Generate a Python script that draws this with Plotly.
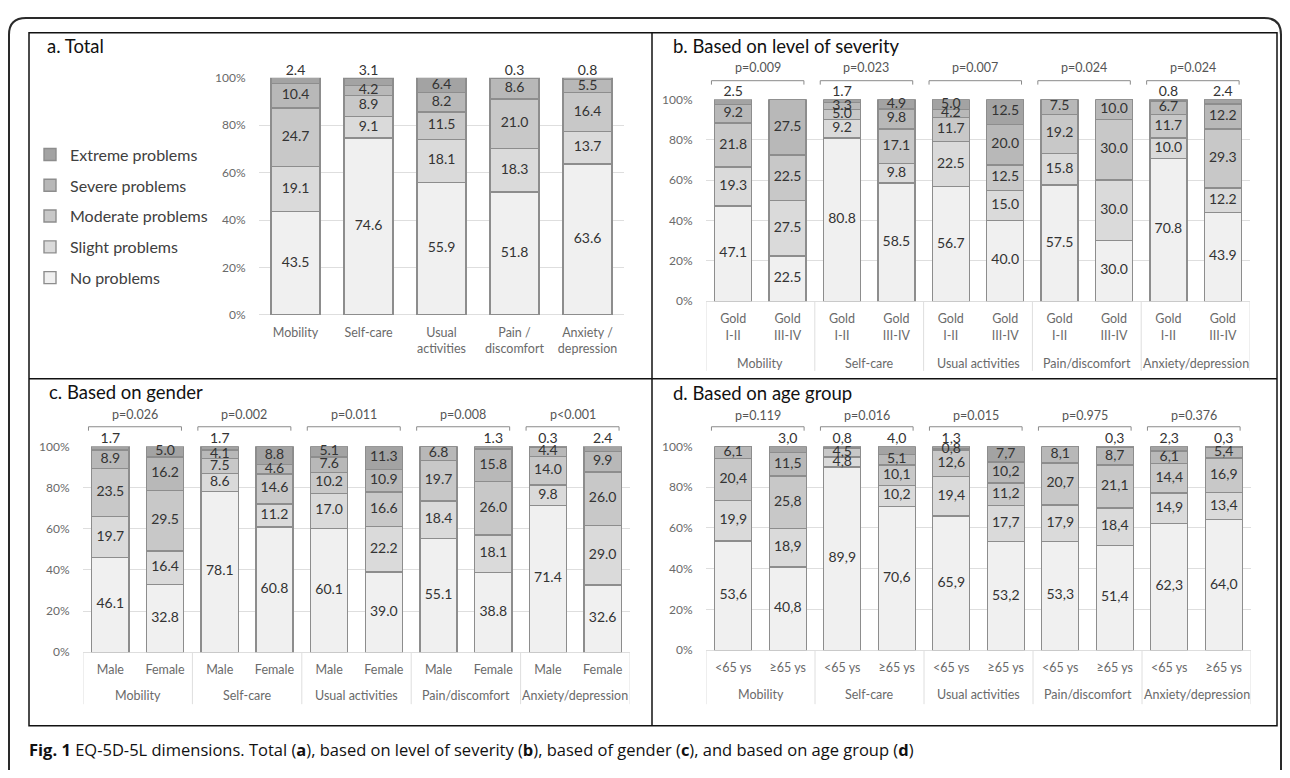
import plotly.graph_objects as go

# page body keeps an 8px margin; figure sized so that it fits the 1290x778 window
OX, OY = 8, 8
W, H = 1290 - 2 * OX, 778 - 2 * OY

# ---------------- data ----------------
levels = ["No problems", "Slight problems", "Moderate problems", "Severe problems", "Extreme problems"]
level_colors = ["#f0f0f0", "#dadada", "#c8c8c8", "#b8b8b8", "#a3a3a3"]

total_dims = ["Mobility", "Self-care", "Usual<br>activities", "Pain /<br>discomfort", "Anxiety /<br>depression"]
total_no = [43.5, 74.6, 55.9, 51.8, 63.6]
total_slight = [19.1, 9.1, 18.1, 18.3, 13.7]
total_moderate = [24.7, 8.9, 11.5, 21.0, 16.4]
total_severe = [10.4, 4.2, 8.2, 8.6, 5.5]
total_extreme = [2.4, 3.1, 6.4, 0.3, 0.8]

groups = ["Mobility", "Self-care", "Usual activities", "Pain/discomfort", "Anxiety/depression"]

sev_sub = ["Gold<br>I-II", "Gold<br>III-IV"]
sev_no = [47.1, 22.5, 80.8, 58.5, 56.7, 40.0, 57.5, 30.0, 70.8, 43.9]
sev_slight = [19.3, 27.5, 9.2, 9.8, 22.5, 15.0, 15.8, 30.0, 10.0, 12.2]
sev_moderate = [21.8, 22.5, 5.0, 17.1, 11.7, 12.5, 19.2, 30.0, 11.7, 29.3]
sev_severe = [9.2, 27.5, 3.3, 9.8, 4.2, 20.0, 7.5, 10.0, 6.7, 12.2]
sev_extreme = [2.5, 0.0, 1.7, 4.9, 5.0, 12.5, 0.0, 0.0, 0.8, 2.4]
sev_p = ["p=0.009", "p=0.023", "p=0.007", "p=0.024", "p=0.024"]

gen_sub = ["Male", "Female"]
gen_no = [46.1, 32.8, 78.1, 60.8, 60.1, 39.0, 55.1, 38.8, 71.4, 32.6]
gen_slight = [19.7, 16.4, 8.6, 11.2, 17.0, 22.2, 18.4, 18.1, 9.8, 29.0]
gen_moderate = [23.5, 29.5, 7.5, 14.6, 10.2, 16.6, 19.7, 26.0, 14.0, 26.0]
gen_severe = [8.9, 16.2, 4.1, 4.6, 7.6, 10.9, 6.8, 15.8, 4.4, 9.9]
gen_extreme = [1.7, 5.0, 1.7, 8.8, 5.1, 11.3, 0.0, 1.3, 0.3, 2.4]
gen_p = ["p=0.026", "p=0.002", "p=0.011", "p=0.008", "p<0.001"]

age_sub = ["<65 ys", "≥65 ys"]
age_no = [53.6, 40.8, 89.9, 70.6, 65.9, 53.2, 53.3, 51.4, 62.3, 64.0]
age_slight = [19.9, 18.9, 4.8, 10.2, 19.4, 17.7, 17.9, 18.4, 14.9, 13.4]
age_moderate = [20.4, 25.8, 4.5, 10.1, 12.6, 11.2, 20.7, 21.1, 14.4, 16.9]
age_severe = [6.1, 11.5, 0.0, 5.1, 0.8, 10.2, 8.1, 8.7, 6.1, 5.4]
age_extreme = [0.0, 3.0, 0.8, 4.0, 1.3, 7.7, 0.0, 0.3, 2.3, 0.3]
age_p = ["p=0.119", "p=0.016", "p=0.015", "p=0.975", "p=0.376"]

y_ticks = [0, 20, 40, 60, 80, 100]

# ---------------- helpers ----------------
FONT = "Lato, 'Open Sans', sans-serif"
CAP_FONT = "'Open Sans', Lato, sans-serif"
VAL_COLOR = "#333333"
AX_COLOR = "#6a6a6a"
GRID = "#dedede"


def pxx(x):
    """window pixel x -> paper coordinate"""
    return (x - OX) / W


def pyy(y):
    """window pixel y (from top) -> paper coordinate"""
    return 1 - (y - OY) / H


def fmt(v, comma):
    if v <= 0:
        return ""
    s = f"{v:.1f}"
    return s.replace(".", ",") if comma else s


fig = go.Figure()


def add_panel(ax, series, comma, showlegend, bargap):
    xa = "x" + ax
    ya = "y" + ax
    n = len(series[0])
    pos = list(range(n))
    for k, vals in enumerate(series):
        fig.add_trace(go.Bar(
            x=pos, y=vals, xaxis=xa, yaxis=ya, name=levels[k],
            legendgroup=levels[k], legendrank=(5 - k) * 10, showlegend=showlegend,
            marker=dict(color=level_colors[k], line=dict(color="#8d8d8d", width=1.4)),
            hoverinfo="skip", width=1 - bargap,
        ))
    # value labels at the middle of every segment
    lx, ly, lt = [], [], []
    ox, oy, ot = [], [], []
    for i in pos:
        base = 0.0
        for k, vals in enumerate(series):
            v = vals[i]
            if v > 0:
                if k == 4 and v <= 4.5:
                    # small extreme values sit above the bar (rounded totals can exceed 100)
                    ox.append(i)
                    oy.append(min(base + v, 99.9))
                    ot.append(fmt(v, comma))
                else:
                    lx.append(i)
                    ly.append(min(base + v / 2, 99.9))
                    lt.append(fmt(v, comma))
            base += v
    fig.add_trace(go.Scatter(
        x=lx, y=ly, xaxis=xa, yaxis=ya, mode="text", text=lt,
        textposition="middle center", cliponaxis=False, showlegend=False,
        textfont=dict(family=FONT, size=14, color=VAL_COLOR), hoverinfo="skip",
    ))
    fig.add_trace(go.Scatter(
        x=ox, y=oy, xaxis=xa, yaxis=ya, mode="text", text=ot,
        textposition="top center", cliponaxis=False, showlegend=False,
        textfont=dict(family=FONT, size=14, color=VAL_COLOR), hoverinfo="skip",
    ))


def axis_cfg(xd, yd, n, ticktext, tickfs):
    xaxis = dict(domain=[pxx(xd[0]), pxx(xd[1])], range=[-0.5, n - 0.5],
                 tickvals=list(range(n)), ticktext=ticktext, showgrid=False,
                 zeroline=False, showline=False, ticks="outside", ticklen=6,
                 tickcolor="rgba(0,0,0,0)", tickfont=dict(family=FONT, size=tickfs, color=AX_COLOR),
                 fixedrange=True)
    yaxis = dict(domain=[pyy(yd[1]), pyy(yd[0])], range=[0, 100], tickmode="array",
                 tickvals=y_ticks, ticktext=[f"{t}%" for t in y_ticks],
                 showgrid=True, gridcolor=GRID, gridwidth=1, zeroline=True,
                 zerolinecolor=GRID, zerolinewidth=1, ticks="outside", ticklen=10,
                 tickcolor="rgba(0,0,0,0)", tickfont=dict(family=FONT, size=12, color=AX_COLOR),
                 showline=False, fixedrange=True)
    return xaxis, yaxis


# panel geometry (window pixels)
A_X, A_Y = (259, 624), (71, 313)
B_X, B_Y = (706, 1250), (93, 299)
C_X, C_Y = (83, 630), (447, 657)
D_X, D_Y = (706, 1251), (447, 655)

add_panel("", [total_no, total_slight, total_moderate, total_severe, total_extreme], False, True, 0.33)
add_panel("2", [sev_no, sev_slight, sev_moderate, sev_severe, sev_extreme], False, False, 0.32)
add_panel("3", [gen_no, gen_slight, gen_moderate, gen_severe, gen_extreme], False, False, 0.32)
add_panel("4", [age_no, age_slight, age_moderate, age_severe, age_extreme], True, False, 0.32)

xa, ya = axis_cfg(A_X, A_Y, 5, total_dims, 12.5)
xb, yb = axis_cfg(B_X, B_Y, 10, sev_sub * 5, 12.5)
xc, yc = axis_cfg(C_X, C_Y, 10, gen_sub * 5, 12.5)
xd, yd = axis_cfg(D_X, D_Y, 10, age_sub * 5, 12.5)

annotations = []
shapes = []

# group labels, dividers, brackets, p-values
for ax, (PX, PY), pvals, glab_y, div_bot, br_y, p_y in [
    ("2", (B_X, B_Y), sev_p, 362, 370, 74, 61),
    ("3", (C_X, C_Y), gen_p, 701, 710, 427, 415),
    ("4", (D_X, D_Y), age_p, 700, 710, 427, 416),
]:
    xr = "x" + ax
    for g in range(len(groups) + 1):
        shapes.append(dict(type="line", xref=xr, yref="paper", x0=2 * g - 0.5, x1=2 * g - 0.5,
                           y0=pyy(PY[1]), y1=pyy(div_bot), line=dict(color=GRID, width=1)))
    for g, name in enumerate(groups):
        annotations.append(dict(xref=xr, yref="paper", x=2 * g + 0.5, y=pyy(glab_y), text=name,
                                showarrow=False, xanchor="center", yanchor="middle",
                                font=dict(family=FONT, size=12.5, color=AX_COLOR)))
        l, r = 2 * g - 0.4, 2 * g + 1.3
        yt, ybm = pyy(br_y), pyy(br_y + 4)
        shapes.append(dict(type="path", xref=xr, yref="paper",
                           path=f"M {l},{ybm} L {l},{yt} L {r},{yt} L {r},{ybm}",
                           line=dict(color="#8a8a8a", width=1)))
        annotations.append(dict(xref=xr, yref="paper", x=2 * g + 0.45, y=pyy(p_y), text=pvals[g],
                                showarrow=False, xanchor="center", yanchor="middle",
                                font=dict(family=FONT, size=12.5, color="#555555")))

# panel titles
for txt, x, y in [("a. Total", 45, 39), ("b. Based on level of severity", 671, 39),
                  ("c. Based on gender", 47, 392), ("d. Based on age group", 671, 393)]:
    annotations.append(dict(xref="paper", yref="paper", x=pxx(x), y=pyy(y), text=txt,
                            showarrow=False, xanchor="left", yanchor="middle",
                            font=dict(family=FONT, size=18.5, color="#111111")))

# caption
annotations.append(dict(xref="paper", yref="paper", x=pxx(27), y=pyy(756),
                        text="<b>Fig. 1</b> EQ-5D-5L dimensions. Total (<b>a</b>), based on level of severity (<b>b</b>), "
                             "based of gender (<b>c</b>), and based on age group (<b>d</b>)",
                        showarrow=False, xanchor="left", yanchor="middle",
                        font=dict(family=CAP_FONT, size=16.5, color="#111111")))

# panel frame and dividers
shapes.append(dict(type="rect", xref="paper", yref="paper", x0=pxx(29), x1=pxx(1277),
                   y0=pyy(732), y1=pyy(25), line=dict(color="#111111", width=1.5)))
shapes.append(dict(type="line", xref="paper", yref="paper", x0=pxx(652), x1=pxx(652),
                   y0=pyy(732), y1=pyy(25), line=dict(color="#111111", width=1.5)))
shapes.append(dict(type="line", xref="paper", yref="paper", x0=pxx(29), x1=pxx(1277),
                   y0=pyy(378), y1=pyy(378), line=dict(color="#111111", width=1.5)))

# outer rounded frame (clipped by the page edges like the reference)
r = 17
fx0, fy0, fx1 = 9, 10, 1281
path = (f"M {pxx(fx0)},{pyy(800)} L {pxx(fx0)},{pyy(fy0 + r)} Q {pxx(fx0)},{pyy(fy0)} {pxx(fx0 + r)},{pyy(fy0)} "
        f"L {pxx(fx1 - r)},{pyy(fy0)} Q {pxx(fx1)},{pyy(fy0)} {pxx(fx1)},{pyy(fy0 + r)} L {pxx(fx1)},{pyy(800)}")
shapes.append(dict(type="path", xref="paper", yref="paper", path=path,
                   line=dict(color="#2a2a2a", width=2)))

fig.update_layout(
    width=W, height=H, margin=dict(l=0, r=0, t=0, b=0),
    paper_bgcolor="white", plot_bgcolor="white",
    barmode="stack",
    font=dict(family=FONT, color="#333333"),
    xaxis=xa, yaxis=ya,
    xaxis2=dict(xb, anchor="y2"), yaxis2=dict(yb, anchor="x2"),
    xaxis3=dict(xc, anchor="y3"), yaxis3=dict(yc, anchor="x3"),
    xaxis4=dict(xd, anchor="y4"), yaxis4=dict(yd, anchor="x4"),
    legend=dict(x=pxx(30), y=pyy(132), xanchor="left", yanchor="top",
                traceorder="grouped", tracegroupgap=7,
                font=dict(family=FONT, size=16, color="#404040"),
                bgcolor="rgba(0,0,0,0)", itemclick=False, itemdoubleclick=False),
    annotations=annotations, shapes=shapes,
    showlegend=True,
)

fig.write_html("out.html")
